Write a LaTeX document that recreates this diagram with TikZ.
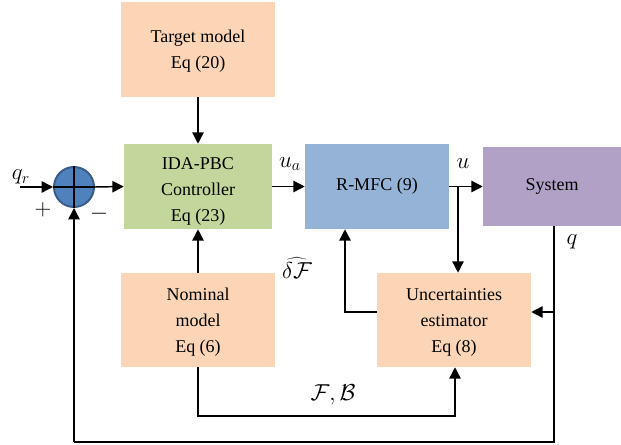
\documentclass[tikz,border=0pt]{standalone}
\usepackage{fontspec}
\setmainfont{Liberation Serif}
\newfontfamily\tnr{Liberation Serif}
\usetikzlibrary{arrows.meta,calc}
\definecolor{peach}{HTML}{FBD5B5}
\definecolor{leaf}{HTML}{C3D69B}
\definecolor{sky}{HTML}{95B3D7}
\definecolor{lilac}{HTML}{B2A1C7}
\definecolor{sumfill}{HTML}{4F81BD}
\definecolor{sumline}{HTML}{385D8A}
\begin{document}
\begin{tikzpicture}[x=0.75pt,y=-0.75pt,
  font=\tnr\fontsize{13.5}{19.5}\selectfont,
  blk/.style={rectangle,draw=none,inner sep=0pt,align=center},
  conn/.style={line width=1.1pt,-{Triangle[length=8.5pt,width=8.5pt]}},
  plain/.style={line width=1.1pt},
  lbl/.style={inner sep=0pt,font=\fontsize{17}{20}\selectfont}]
\useasboundingbox (0,0) rectangle (621,445);
% blocks
\node[blk,fill=peach,minimum width=115.5pt,minimum height=71.25pt] (target) at (198,49.5) {};
\node[blk] (targett) at (198,51) {Target model\\Eq (20)};
\node[blk,fill=leaf,minimum width=111pt,minimum height=63.75pt] (ida) at (198,186.5) {};
\node[blk] (idat) at (198,191) {IDA-PBC\\Controller\\Eq (23)};
\node[blk,fill=sky,minimum width=108pt,minimum height=63.75pt] (rmfc) at (377,186.5) {R-MFC (9)};
\node[blk,fill=lilac,minimum width=103.5pt,minimum height=59.25pt] (sys) at (552,186.5) {System};
\node[blk,fill=peach,minimum width=115.5pt,minimum height=70.5pt] (nom) at (198,320) {};
\node[blk] (nomt) at (198,322) {Nominal\\model\\Eq (6)};
\node[blk,fill=peach,minimum width=115.5pt,minimum height=70.5pt] (est) at (454,320) {};
\node[blk] (estt) at (454,322) {Uncertainties\\estimator\\Eq (8)};
\node[circle,fill=sumfill,draw=sumline,line width=1.5pt,minimum size=30pt,inner sep=0pt] (sum) at (74,187) {};
\draw[line width=1.1pt] (sum.north) -- (sum.south) (sum.west) -- (sum.east);
% coordinates
\coordinate (qr) at (20,187);
\coordinate (ub) at (458,187);
\coordinate (dl) at (345,312);
\coordinate (qb) at (554,312);
\coordinate (qs) at (554,226);
\coordinate (bot) at (554,442);
\coordinate (fb) at (455,416);
% connectors
\draw[conn] (qr) -- (sum.west);
\draw[conn] (sum.east) -- (ida.west);
\draw[conn] (target.south) -- (ida.north);
\draw[conn] (nom.north) -- (ida.south);
\draw[conn] (ida.east) -- (rmfc.west);
\draw[conn] (rmfc.east) -- (sys.west);
\draw[conn] (ub) -- (ub |- est.north);
\draw[conn] (est.west |- dl) -- (dl) -- (rmfc.south -| dl);
\draw[plain] (qs) -- (bot) -- (bot -| sum.south);
\draw[conn] (bot -| sum.south) -- (sum.south);
\draw[conn] (qb) -- (est.east |- qb);
\draw[conn] (nom.south) |- (fb) -- (fb |- est.south);
% labels
\node[lbl] (lqr) at (21,177) {$q_r$};
\node[lbl] (lplus) at (43,210) {\LARGE$+$};
\node[lbl] (lminus) at (99,214) {\LARGE$-$};
\node[lbl] (lua) at (290,164) {$u_a$};
\node[lbl] (lu) at (463,164) {$u$};
\node[lbl] (ldf) at (297,268) {$\widehat{\delta\mathcal{F}}$};
\node[lbl] (lq) at (572,242) {$q$};
\node[lbl] (lfb) at (333,395) {$\mathcal{F},\mathcal{B}$};
\end{tikzpicture}
\end{document}
